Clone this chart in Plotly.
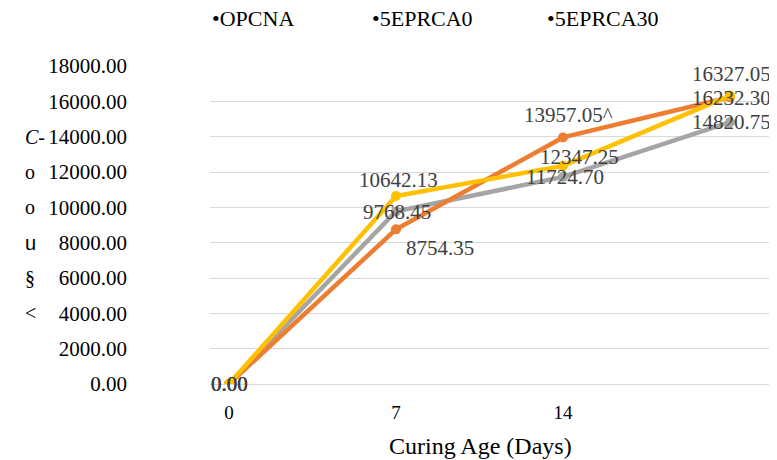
import plotly.graph_objects as go

days = ["0", "7", "14", "28"]
tick_days = ["0", "7", "14"]
series_names = ["OPCNA", "5EPRCA0", "5EPRCA30"]
opcna = [0.00, 8754.35, 13957.05, 16232.30]
eprca0 = [0.00, 9768.45, 11724.70, 14820.75]
eprca30 = [0.00, 10642.13, 12347.25, 16327.05]
opcna_labels = ["0.00", "8754.35", "13957.05^", "16232.30"]
eprca0_labels = ["0.00", "9768.45", "11724.70", "14820.75"]
eprca30_labels = ["0.00", "10642.13", "12347.25", "16327.05"]
y_ticks = [0, 2000, 4000, 6000, 8000, 10000, 12000, 14000, 16000, 18000]
y_glyphs = ["C-", "o", "o", "u", "§", "<"]
y_glyph_levels = [14000, 12000, 10000, 8000, 6000, 4000]

SERIF = "Liberation Serif"
SANS = "Liberation Sans"
colors = ["#ED7D31", "#A5A5A5", "#FFC000"]

# layout geometry (screen px; page is offset by 8 px body margin)
L, T, B = 210, 66, 384
PW, PH = 777 - L, B - T


def px(x):
    return (x - L) / PW


def py(y):
    return (B - y) / PH


fig = go.Figure()
order = [1, 0, 2]
data = [opcna, eprca0, eprca30]
for i in order:
    fig.add_trace(go.Scatter(
        x=days, y=data[i], mode="lines+markers", name=series_names[i],
        line=dict(color=colors[i], width=4.5),
        marker=dict(color=colors[i], size=10, symbol="circle"),
        showlegend=False,
    ))

# label offsets (xshift, yshift) per series/point, in px (yshift up positive)
offsets = {
    0: [(0, 0), (44, -19), (5, 22), (1, -1)],
    1: [(0, 0), (1, -1), (2, 0), (1, 0)],
    2: [(0, 0), (2, 16), (16, 9), (1, 22)],
}
labels = [opcna_labels, eprca0_labels, eprca30_labels]
ann = []
for i in range(3):
    for j, d in enumerate(days):
        xs, ys = offsets[i][j]
        ann.append(dict(x=j, y=data[i][j], xref="x", yref="y", text=labels[i][j],
                        showarrow=False, xshift=xs, yshift=ys,
                        font=dict(family=SERIF, size=21, color="#404040")))

# y-axis glyphs (garbled title)
for g, lv in zip(y_glyphs, y_glyph_levels):
    fam = SANS if g == "u" else SERIF
    txt = "<i>C</i>-" if g == "C-" else g
    ann.append(dict(x=0, y=lv, xref="paper", yref="y", text=txt, showarrow=False,
                    xshift=23 - L, font=dict(family=fam, size=20, color="#000000")))

# legend-like texts
leg_x = [210, 370, 545]
for name, lx in zip(series_names, leg_x):
    ann.append(dict(x=px(lx), y=py(18), xref="paper", yref="paper",
                    text="•" + name, showarrow=False, xanchor="left", yanchor="middle",
                    font=dict(family=SERIF, size=22, color="#000000")))

# x-axis title
ann.append(dict(x=px(480), y=py(446), xref="paper", yref="paper",
                text="Curing Age (Days)", showarrow=False, yanchor="middle",
                font=dict(family=SERIF, size=24, color="#000000")))

tick_text = [f"{v:.2f}" for v in y_ticks]

shapes = [
    dict(type="rect", xref="paper", yref="paper", x0=0, x1=px(419),
         y0=py(146), y1=py(128), fillcolor="white", line=dict(width=0), layer="below"),
    dict(type="rect", xref="paper", yref="paper", x0=0, x1=px(613),
         y0=py(110), y1=py(58), fillcolor="white", line=dict(width=0), layer="below"),
]

fig.update_layout(
    width=777, height=460, autosize=False,
    margin=dict(l=L - 8, r=8, t=T - 8, b=460 - (B - 8)),
    paper_bgcolor="white", plot_bgcolor="white",
    annotations=ann, shapes=shapes,
    font=dict(family=SERIF),
    xaxis=dict(type="category", range=[(L - 229) / 167, (777 - 229) / 167],
               tickvals=tick_days, ticktext=tick_days,
               showgrid=False, zeroline=False, showline=False, ticks="",
               ticklabelstandoff=15,
               tickfont=dict(family=SERIF, size=19, color="#000000")),
    yaxis=dict(range=[0, 18000], tickvals=y_ticks, ticktext=tick_text,
               showgrid=True, gridcolor="#D9D9D9", gridwidth=1,
               zeroline=True, zerolinecolor="#D9D9D9", zerolinewidth=1,
               showline=False, ticks="", ticklabelstandoff=L - 128,
               tickfont=dict(family=SERIF, size=21, color="#000000")),
)

fig.write_html("out.html")
